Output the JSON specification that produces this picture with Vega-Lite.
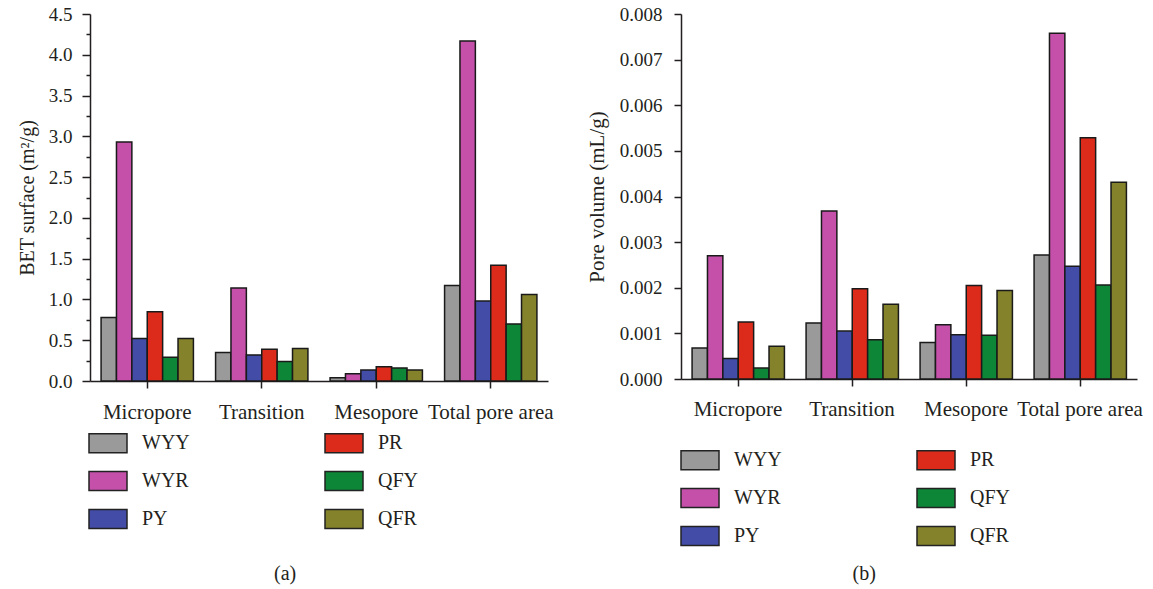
{
  "$schema": "https://vega.github.io/schema/vega-lite/v6.json",
  "padding": {"left": 17, "top": 5, "right": 5, "bottom": 5},
  "background": "white",
  "config": {
    "font": "Liberation Serif",
    "view": {"stroke": null},
    "axis": {
      "labelFont": "Liberation Serif", "titleFont": "Liberation Serif",
      "labelColor": "#231f20", "titleColor": "#231f20",
      "domainColor": "#231f20", "tickColor": "#231f20",
      "labelFontSize": 19, "titleFontSize": 20, "titleFontWeight": "normal",
      "grid": false, "domainWidth": 1.5, "tickWidth": 1.5
    },
    "legend": {
      "labelFont": "Liberation Serif", "labelFontSize": 20, "labelColor": "#231f20",
      "symbolStrokeColor": "#222222", "symbolStrokeWidth": 1.5, "symbolOpacity": 1
    },
    "title": {"font": "Liberation Serif", "fontSize": 20, "fontWeight": "normal", "color": "#231f20"}
  },
  "datasets": {
    "bet": [
      {"pore": "Micropore", "sample": "WYY", "value": 0.78},
      {"pore": "Micropore", "sample": "WYR", "value": 2.93},
      {"pore": "Micropore", "sample": "PY", "value": 0.52},
      {"pore": "Micropore", "sample": "PR", "value": 0.85},
      {"pore": "Micropore", "sample": "QFY", "value": 0.29},
      {"pore": "Micropore", "sample": "QFR", "value": 0.52},
      {"pore": "Transition", "sample": "WYY", "value": 0.35},
      {"pore": "Transition", "sample": "WYR", "value": 1.14},
      {"pore": "Transition", "sample": "PY", "value": 0.32},
      {"pore": "Transition", "sample": "PR", "value": 0.39},
      {"pore": "Transition", "sample": "QFY", "value": 0.24},
      {"pore": "Transition", "sample": "QFR", "value": 0.40},
      {"pore": "Mesopore", "sample": "WYY", "value": 0.04},
      {"pore": "Mesopore", "sample": "WYR", "value": 0.09},
      {"pore": "Mesopore", "sample": "PY", "value": 0.135},
      {"pore": "Mesopore", "sample": "PR", "value": 0.175},
      {"pore": "Mesopore", "sample": "QFY", "value": 0.16},
      {"pore": "Mesopore", "sample": "QFR", "value": 0.135},
      {"pore": "Total pore area", "sample": "WYY", "value": 1.17},
      {"pore": "Total pore area", "sample": "WYR", "value": 4.17},
      {"pore": "Total pore area", "sample": "PY", "value": 0.98},
      {"pore": "Total pore area", "sample": "PR", "value": 1.42},
      {"pore": "Total pore area", "sample": "QFY", "value": 0.70},
      {"pore": "Total pore area", "sample": "QFR", "value": 1.06}
    ],
    "vol": [
      {"pore": "Micropore", "sample": "WYY", "value": 0.00068},
      {"pore": "Micropore", "sample": "WYR", "value": 0.0027},
      {"pore": "Micropore", "sample": "PY", "value": 0.00045},
      {"pore": "Micropore", "sample": "PR", "value": 0.00125},
      {"pore": "Micropore", "sample": "QFY", "value": 0.00024},
      {"pore": "Micropore", "sample": "QFR", "value": 0.00072},
      {"pore": "Transition", "sample": "WYY", "value": 0.00123},
      {"pore": "Transition", "sample": "WYR", "value": 0.00368},
      {"pore": "Transition", "sample": "PY", "value": 0.00105},
      {"pore": "Transition", "sample": "PR", "value": 0.00198},
      {"pore": "Transition", "sample": "QFY", "value": 0.00086},
      {"pore": "Transition", "sample": "QFR", "value": 0.00164},
      {"pore": "Mesopore", "sample": "WYY", "value": 0.0008},
      {"pore": "Mesopore", "sample": "WYR", "value": 0.00119},
      {"pore": "Mesopore", "sample": "PY", "value": 0.00097},
      {"pore": "Mesopore", "sample": "PR", "value": 0.00205},
      {"pore": "Mesopore", "sample": "QFY", "value": 0.00096},
      {"pore": "Mesopore", "sample": "QFR", "value": 0.00194},
      {"pore": "Total pore area", "sample": "WYY", "value": 0.00272},
      {"pore": "Total pore area", "sample": "WYR", "value": 0.00758},
      {"pore": "Total pore area", "sample": "PY", "value": 0.00247},
      {"pore": "Total pore area", "sample": "PR", "value": 0.00529},
      {"pore": "Total pore area", "sample": "QFY", "value": 0.00206},
      {"pore": "Total pore area", "sample": "QFR", "value": 0.00431}
    ]
  },
  "spacing": 32,
  "resolve": {"scale": {"color": "independent"}, "legend": {"color": "independent"}},
  "hconcat": [
    {
      "width": 458, "height": 367,
      "data": {"name": "bet"},
      "title": {"text": "(a)", "orient": "bottom", "anchor": "middle", "frame": "bounds", "offset": 32},
      "mark": {"type": "bar", "stroke": "#1a1a1a", "strokeWidth": 1.5},
      "encoding": {
        "x": {"field": "pore", "type": "nominal", "sort": ["Micropore", "Transition", "Mesopore", "Total pore area"],
              "scale": {"paddingInner": 0, "paddingOuter": 0},
              "axis": {"title": null, "labelAngle": 0, "tickSize": 7, "labelPadding": 13, "labelFontSize": 21, "labelFont": "Liberation Serif"}},
        "xOffset": {"field": "sample", "type": "nominal", "sort": ["WYY", "WYR", "PY", "PR", "QFY", "QFR"],
                    "scale": {"paddingInner": 0, "paddingOuter": 0.72}},
        "y": {"field": "value", "type": "quantitative", "scale": {"domain": [0, 4.5], "nice": false},
              "axis": {"title": "BET surface (m²/g)",
                       "values": [0, 0.25, 0.5, 0.75, 1, 1.25, 1.5, 1.75, 2, 2.25, 2.5, 2.75, 3, 3.25, 3.5, 3.75, 4, 4.25, 4.5],
                       "labelExpr": "(datum.value * 4) % 2 == 0 ? format(datum.value, '.1f') : ''",
                       "tickSize": {"condition": {"test": "(datum.value * 4) % 2 == 1", "value": 4}, "value": 8},
                       "labelFont": "Liberation Serif", "titleFont": "Liberation Serif",
                       "labelPadding": 10, "titlePadding": 11}},
        "color": {"field": "sample", "type": "nominal",
                  "scale": {"domain": ["WYY", "WYR", "PY", "PR", "QFY", "QFR"],
                            "range": ["#9a9a9a", "#c550aa", "#434ca6", "#dc2b1a", "#0d8637", "#84832b"]},
                  "legend": {"orient": "none", "legendX": -2, "legendY": 409, "columns": 2, "title": null,
                             "labelFont": "Liberation Serif",
                             "symbolType": "M-1,-0.5H1V0.5H-1Z", "symbolSize": 1444, "labelOffset": 14,
                             "rowPadding": 5, "columnPadding": 132}}
      }
    },
    {
      "width": 456, "height": 365,
      "data": {"name": "vol"},
      "title": {"text": "(b)", "orient": "bottom", "anchor": "middle", "frame": "bounds", "offset": 15},
      "mark": {"type": "bar", "stroke": "#1a1a1a", "strokeWidth": 1.5},
      "encoding": {
        "x": {"field": "pore", "type": "nominal", "sort": ["Micropore", "Transition", "Mesopore", "Total pore area"],
              "scale": {"paddingInner": 0, "paddingOuter": 0},
              "axis": {"title": null, "labelAngle": 0, "tickSize": 7, "labelPadding": 12, "labelFontSize": 21, "labelFont": "Liberation Serif"}},
        "xOffset": {"field": "sample", "type": "nominal", "sort": ["WYY", "WYR", "PY", "PR", "QFY", "QFR"],
                    "scale": {"paddingInner": 0, "paddingOuter": 0.72}},
        "y": {"field": "value", "type": "quantitative", "scale": {"domain": [0, 0.008], "nice": false},
              "axis": {"title": "Pore volume (mL/g)", "values": [0, 0.001, 0.002, 0.003, 0.004, 0.005, 0.006, 0.007, 0.008], "format": ".3f",
                       "labelFont": "Liberation Serif", "titleFont": "Liberation Serif",
                       "tickSize": 7, "labelPadding": 12, "titlePadding": 12, "titleFontSize": 21}},
        "color": {"field": "sample", "type": "nominal",
                  "scale": {"domain": ["WYY", "WYR", "PY", "PR", "QFY", "QFR"],
                            "range": ["#9a9a9a", "#c550aa", "#434ca6", "#dc2b1a", "#0d8637", "#84832b"]},
                  "legend": {"orient": "none", "legendX": -1, "legendY": 426, "columns": 2, "title": null,
                             "labelFont": "Liberation Serif",
                             "symbolType": "M-1,-0.5H1V0.5H-1Z", "symbolSize": 1444, "labelOffset": 14,
                             "rowPadding": 5, "columnPadding": 132}}
      }
    }
  ]
}
